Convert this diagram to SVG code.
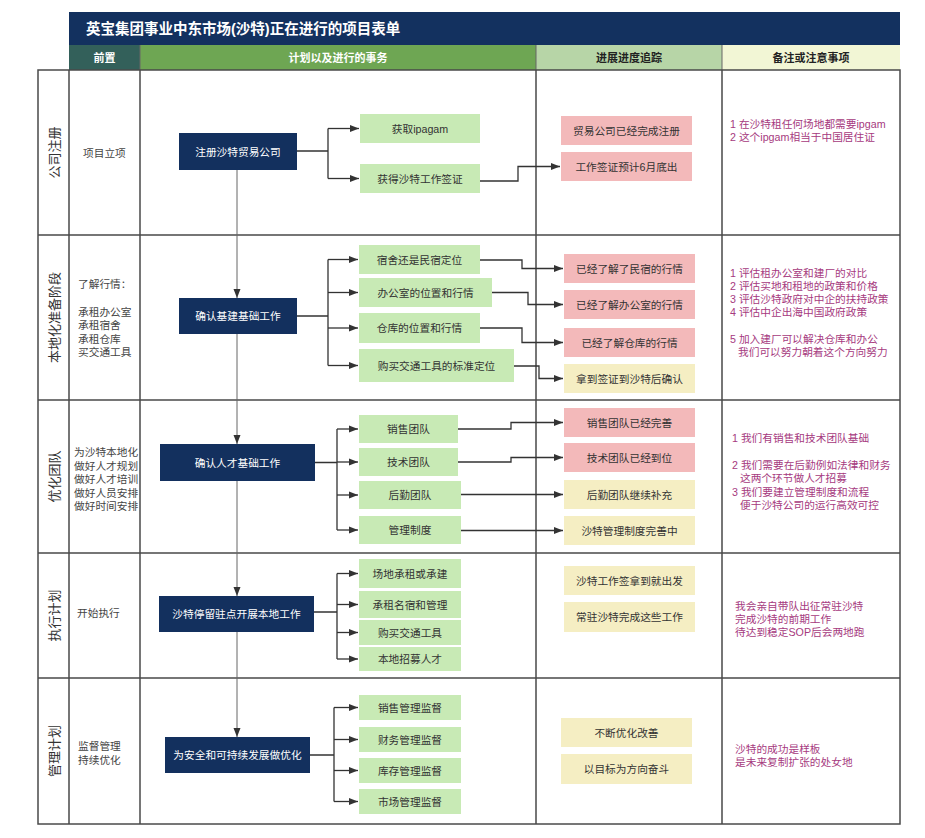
<svg xmlns="http://www.w3.org/2000/svg" width="925" height="838" viewBox="0 0 925 838">
<style>
text{font-family:"Liberation Sans","Noto Sans CJK SC",sans-serif;}
.navy{fill:#13305e;}
.green{fill:#c8eab5;}
.pink{fill:#f3b9ba;}
.yellow{fill:#f5eec3;}
.bt{font-size:10.7px;fill:#333;text-anchor:middle;dominant-baseline:central;}
.wt{font-size:10.7px;fill:#fff;text-anchor:middle;dominant-baseline:central;}
.lt{font-size:10.7px;fill:#444;dominant-baseline:central;}
.note{font-size:10.7px;fill:#a63a80;dominant-baseline:central;}
.vl{font-size:13px;fill:#333;text-anchor:middle;dominant-baseline:central;}
.hd{font-size:11px;font-weight:bold;text-anchor:middle;dominant-baseline:central;}
.grid{stroke:#4a4a4a;stroke-width:1.5;fill:none;}
.conn{stroke:#333;stroke-width:1.3;fill:none;marker-end:url(#arr);}
.flow{stroke:#666;stroke-width:1;fill:none;marker-end:url(#arr);}
.line{stroke:#333;stroke-width:1.3;fill:none;}
</style>
<defs>
<marker id="arr" markerUnits="userSpaceOnUse" markerWidth="10" markerHeight="8" refX="9" refY="4" orient="auto">
<path d="M0,0.5 L9,4 L0,7.5 Z" fill="#333"/>
</marker>
</defs>
<rect width="925" height="838" fill="#fff"/>

<g id="title">
<rect x="69" y="12" width="831" height="33" fill="#13315f"/>
<text x="86" y="29" font-size="14.5" font-weight="bold" fill="#fff" dominant-baseline="central">英宝集团事业中东市场(沙特)正在进行的项目表单</text>
</g>

<g id="header">
<rect x="69" y="45" width="71" height="25" fill="#33605a"/>
<rect x="140" y="45" width="396" height="25" fill="#6ea653"/>
<rect x="536" y="45" width="186" height="25" fill="#b7d5a7"/>
<rect x="722" y="45" width="178" height="25" fill="#f2f6d5"/>
<path d="M140,45 V70 M536,45 V70 M722,45 V70" stroke="#666" stroke-width="1"/>
<text class="hd" x="104.5" y="58" fill="#fff">前置</text>
<text class="hd" x="338" y="58" fill="#fff">计划以及进行的事务</text>
<text class="hd" x="629" y="58" fill="#222">进展进度追踪</text>
<text class="hd" x="811" y="58" fill="#222">备注或注意事项</text>
</g>

<g id="grid">
<rect class="grid" x="38" y="70" width="862" height="754"/>
<path class="grid" d="M38,235 H900 M38,400 H900 M38,553 H900 M38,678 H900 M69,70 V824 M140,70 V824 M536,70 V824 M722,70 V824"/>
</g>

<g id="labels">
<text class="vl" transform="rotate(-90 54 152.5)" x="54" y="152.5">公司注册</text>
<text class="vl" transform="rotate(-90 54 317.5)" x="54" y="317.5">本地化准备阶段</text>
<text class="vl" transform="rotate(-90 54 476.5)" x="54" y="476.5">优化团队</text>
<text class="vl" transform="rotate(-90 54 615.5)" x="54" y="615.5">执行计划</text>
<text class="vl" transform="rotate(-90 54 751)" x="54" y="751">管理计划</text>
<text class="lt" x="83" y="153">项目立项</text>
<text class="lt" x="78" y="284">了解行情：</text>
<text class="lt" x="78" y="312">承租办公室</text>
<text class="lt" x="78" y="325">承租宿舍</text>
<text class="lt" x="78" y="338.5">承租仓库</text>
<text class="lt" x="78" y="352">买交通工具</text>
<text class="lt" x="74" y="452">为沙特本地化</text>
<text class="lt" x="74" y="465.5">做好人才规划</text>
<text class="lt" x="74" y="479">做好人才培训</text>
<text class="lt" x="74" y="492.5">做好人员安排</text>
<text class="lt" x="74" y="506">做好时间安排</text>
<text class="lt" x="77" y="613">开始执行</text>
<text class="lt" x="78" y="746">监督管理</text>
<text class="lt" x="78" y="760">持续优化</text>
</g>

<g id="notes">
<text class="note" x="730" y="124">1 在沙特租任何场地都需要ipgam</text>
<text class="note" x="730" y="137">2 这个ipgam相当于中国居住证</text>
<text class="note" x="730" y="273">1 评估租办公室和建厂的对比</text>
<text class="note" x="730" y="286">2 评估买地和租地的政策和价格</text>
<text class="note" x="730" y="299">3 评估沙特政府对中企的扶持政策</text>
<text class="note" x="730" y="312">4 评估中企出海中国政府政策</text>
<text class="note" x="730" y="339">5 加入建厂可以解决仓库和办公</text>
<text class="note" x="738" y="352">我们可以努力朝着这个方向努力</text>
<text class="note" x="732" y="438">1 我们有销售和技术团队基础</text>
<text class="note" x="732" y="465">2 我们需要在后勤例如法律和财务</text>
<text class="note" x="740" y="478">这两个环节做人才招募</text>
<text class="note" x="732" y="492">3 我们要建立管理制度和流程</text>
<text class="note" x="740" y="505">便于沙特公司的运行高效可控</text>
<text class="note" x="735" y="606">我会亲自带队出征常驻沙特</text>
<text class="note" x="735" y="619">完成沙特的前期工作</text>
<text class="note" x="735" y="632">待达到稳定SOP后会两地跑</text>
<text class="note" x="735" y="749">沙特的成功是样板</text>
<text class="note" x="735" y="762">是未来复制扩张的处女地</text>
</g>

<g id="connectors">
<path class="flow" d="M237,170 V298"/>
<path class="flow" d="M237,334 V444"/>
<path class="flow" d="M237,481 V596"/>
<path class="flow" d="M237,632 V737"/>

<path class="line" d="M297,151 H328 M328,128.5 V178.5"/>
<path class="conn" d="M328,128.5 H359"/>
<path class="conn" d="M328,178.5 H359"/>
<path class="conn" d="M480,181 H518 V166.5 H560"/>

<path class="line" d="M297,316 H328 M328,259.5 V365.5"/>
<path class="conn" d="M328,259.5 H358"/>
<path class="conn" d="M328,292.5 H358"/>
<path class="conn" d="M328,328 H358"/>
<path class="conn" d="M328,365.5 H358"/>
<path class="conn" d="M480,260 H522 V268.5 H563"/>
<path class="conn" d="M492,292.5 H528 V304.5 H563"/>
<path class="conn" d="M480,328 H522 V342.5 H563"/>
<path class="conn" d="M514,366 H539 V378.5 H563"/>

<path class="line" d="M315,462.5 H337 M337,429 V530"/>
<path class="conn" d="M337,429 H358"/>
<path class="conn" d="M337,462 H358"/>
<path class="conn" d="M337,495 H358"/>
<path class="conn" d="M337,530 H358"/>
<path class="conn" d="M458,429 H511 V422.5 H563"/>
<path class="conn" d="M458,462 H511 V457.5 H563"/>
<path class="conn" d="M461,494.5 H563"/>
<path class="conn" d="M461,530.5 H563"/>

<path class="line" d="M314,612 H337 M337,573.5 V659"/>
<path class="conn" d="M337,573.5 H358"/>
<path class="conn" d="M337,604.5 H358"/>
<path class="conn" d="M337,632.5 H358"/>
<path class="conn" d="M337,659 H358"/>

<path class="line" d="M310,755 H334 M334,707.5 V801.5"/>
<path class="conn" d="M334,707.5 H358"/>
<path class="conn" d="M334,739.5 H358"/>
<path class="conn" d="M334,770.5 H358"/>
<path class="conn" d="M334,801.5 H358"/>
</g>

<g id="n1"><rect class="navy" x="179" y="133" width="118" height="37"/><text class="wt" x="238" y="151.5">注册沙特贸易公司</text></g>
<g id="g1a"><rect class="green" x="360" y="114" width="120" height="29"/><text class="bt" x="420" y="128.5">获取ipagam</text></g>
<g id="g1b"><rect class="green" x="360" y="164" width="120" height="29"/><text class="bt" x="420" y="178.5">获得沙特工作签证</text></g>
<g id="p1a"><rect class="pink" x="561" y="116" width="131" height="29"/><text class="bt" x="626.5" y="130.5">贸易公司已经完成注册</text></g>
<g id="p1b"><rect class="pink" x="561" y="152" width="131" height="29"/><text class="bt" x="626.5" y="166.5">工作签证预计6月底出</text></g>

<g id="n2"><rect class="navy" x="179" y="298" width="118" height="36"/><text class="wt" x="238" y="316">确认基建基础工作</text></g>
<g id="g2a"><rect class="green" x="359" y="245" width="121" height="29"/><text class="bt" x="419.5" y="259.5">宿舍还是民宿定位</text></g>
<g id="g2b"><rect class="green" x="359" y="278" width="133" height="29"/><text class="bt" x="425.5" y="292.5">办公室的位置和行情</text></g>
<g id="g2c"><rect class="green" x="359" y="313" width="121" height="30"/><text class="bt" x="419.5" y="328">仓库的位置和行情</text></g>
<g id="g2d"><rect class="green" x="359" y="349" width="155" height="33"/><text class="bt" x="436.5" y="365.5">购买交通工具的标准定位</text></g>
<g id="p2a"><rect class="pink" x="564" y="254" width="131" height="29"/><text class="bt" x="629.5" y="268.5">已经了解了民宿的行情</text></g>
<g id="p2b"><rect class="pink" x="564" y="290" width="131" height="29"/><text class="bt" x="629.5" y="304.5">已经了解办公室的行情</text></g>
<g id="p2c"><rect class="pink" x="564" y="328" width="131" height="29"/><text class="bt" x="629.5" y="342.5">已经了解仓库的行情</text></g>
<g id="y2d"><rect class="yellow" x="564" y="364" width="131" height="29"/><text class="bt" x="629.5" y="378.5">拿到签证到沙特后确认</text></g>

<g id="n3"><rect class="navy" x="160" y="444" width="155" height="37"/><text class="wt" x="237.5" y="462.5">确认人才基础工作</text></g>
<g id="g3a"><rect class="green" x="359" y="415" width="99" height="28"/><text class="bt" x="408.5" y="429">销售团队</text></g>
<g id="g3b"><rect class="green" x="359" y="448" width="99" height="28"/><text class="bt" x="408.5" y="462">技术团队</text></g>
<g id="g3c"><rect class="green" x="359" y="481" width="102" height="28"/><text class="bt" x="410" y="495">后勤团队</text></g>
<g id="g3d"><rect class="green" x="359" y="516" width="102" height="28"/><text class="bt" x="410" y="530">管理制度</text></g>
<g id="p3a"><rect class="pink" x="564" y="408" width="131" height="29"/><text class="bt" x="629.5" y="422.5">销售团队已经完善</text></g>
<g id="p3b"><rect class="pink" x="564" y="443" width="131" height="29"/><text class="bt" x="629.5" y="457.5">技术团队已经到位</text></g>
<g id="y3c"><rect class="yellow" x="564" y="480" width="131" height="29"/><text class="bt" x="629.5" y="494.5">后勤团队继续补充</text></g>
<g id="y3d"><rect class="yellow" x="564" y="516" width="131" height="29"/><text class="bt" x="629.5" y="530.5">沙特管理制度完善中</text></g>

<g id="n4"><rect class="navy" x="159" y="596" width="155" height="36"/><text class="wt" x="236.5" y="614">沙特停留驻点开展本地工作</text></g>
<g id="g4a"><rect class="green" x="359" y="559" width="102" height="29"/><text class="bt" x="410" y="573.5">场地承租或承建</text></g>
<g id="g4b"><rect class="green" x="359" y="591" width="102" height="27"/><text class="bt" x="410" y="604.5">承租名宿和管理</text></g>
<g id="g4c"><rect class="green" x="359" y="620" width="102" height="25"/><text class="bt" x="410" y="632.5">购买交通工具</text></g>
<g id="g4d"><rect class="green" x="359" y="647" width="102" height="24"/><text class="bt" x="410" y="659">本地招募人才</text></g>
<g id="y4a"><rect class="yellow" x="564" y="566" width="131" height="29"/><text class="bt" x="629.5" y="580.5">沙特工作签拿到就出发</text></g>
<g id="y4b"><rect class="yellow" x="564" y="602" width="131" height="30"/><text class="bt" x="629.5" y="617">常驻沙特完成这些工作</text></g>

<g id="n5"><rect class="navy" x="165" y="737" width="145" height="36"/><text class="wt" x="237.5" y="755">为安全和可持续发展做优化</text></g>
<g id="g5a"><rect class="green" x="359" y="695" width="102" height="25"/><text class="bt" x="410" y="707.5">销售管理监督</text></g>
<g id="g5b"><rect class="green" x="359" y="727" width="102" height="25"/><text class="bt" x="410" y="739.5">财务管理监督</text></g>
<g id="g5c"><rect class="green" x="359" y="758" width="102" height="25"/><text class="bt" x="410" y="770.5">库存管理监督</text></g>
<g id="g5d"><rect class="green" x="359" y="789" width="102" height="25"/><text class="bt" x="410" y="801.5">市场管理监督</text></g>
<g id="y5a"><rect class="yellow" x="561" y="718" width="131" height="29"/><text class="bt" x="626.5" y="732.5">不断优化改善</text></g>
<g id="y5b"><rect class="yellow" x="561" y="754" width="131" height="30"/><text class="bt" x="626.5" y="769">以目标为方向奋斗</text></g>
</svg>
